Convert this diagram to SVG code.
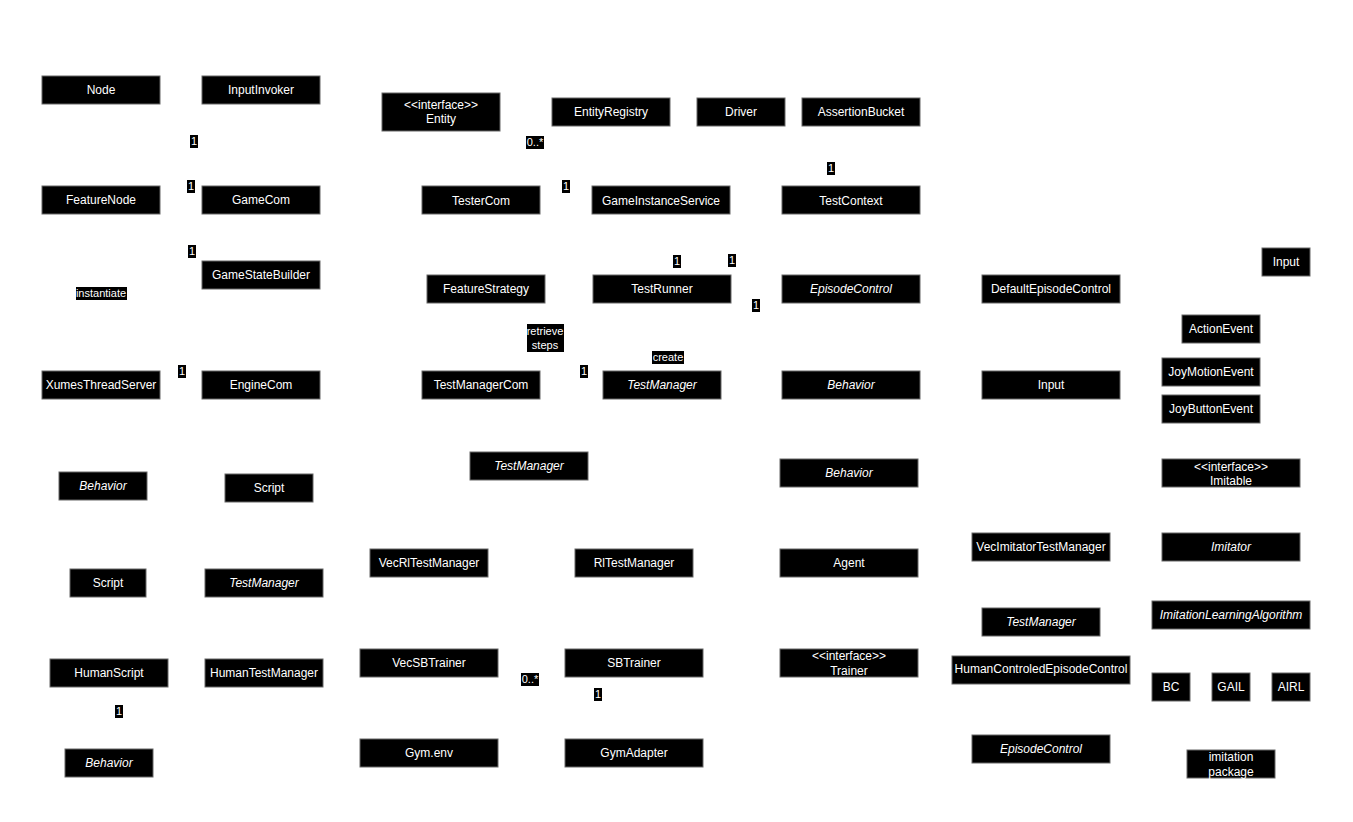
<svg xmlns="http://www.w3.org/2000/svg" width="1353" height="822" viewBox="0 0 1353 822">
<style>
rect.b{fill:#000;stroke:#666;stroke-width:1}
text{font-family:"Liberation Sans",Arial,sans-serif;font-size:12px;fill:#fff;text-anchor:middle;dominant-baseline:central}
.i{font-style:italic}
rect.l{fill:#000}
text.s{font-size:11px}
</style>
<rect width="1353" height="822" fill="#fff"/>
<g id="connectors">
<rect class="l" x="190" y="135" width="8" height="13"/><text class="s" x="194" y="141">1</text>
<rect class="l" x="187" y="180" width="8" height="13"/><text class="s" x="191" y="186">1</text>
<rect class="l" x="188" y="245" width="8" height="13"/><text class="s" x="192" y="251">1</text>
<rect class="l" x="76" y="287" width="51" height="13"/><text class="s" x="101" y="293">instantiate</text>
<rect class="l" x="178" y="365" width="8" height="13"/><text class="s" x="182" y="371">1</text>
<rect class="l" x="526" y="136" width="18" height="13"/><text class="s" x="535" y="142">0..*</text>
<rect class="l" x="562" y="180" width="8" height="13"/><text class="s" x="566" y="186">1</text>
<rect class="l" x="673" y="255" width="8" height="13"/><text class="s" x="677" y="261">1</text>
<rect class="l" x="728" y="254" width="8" height="13"/><text class="s" x="732" y="260">1</text>
<rect class="l" x="752" y="299" width="8" height="13"/><text class="s" x="756" y="305">1</text>
<rect class="l" x="527" y="324" width="37" height="28"/><text class="s" x="545" y="331">retrieve</text><text class="s" x="545" y="345">steps</text>
<rect class="l" x="652" y="351" width="32" height="13"/><text class="s" x="668" y="357">create</text>
<rect class="l" x="580" y="365" width="8" height="13"/><text class="s" x="584" y="371">1</text>
<rect class="l" x="827" y="162" width="8" height="13"/><text class="s" x="831" y="168">1</text>
<rect class="l" x="521" y="673" width="18" height="13"/><text class="s" x="530" y="679">0..*</text>
<rect class="l" x="594" y="688" width="8" height="13"/><text class="s" x="598" y="694">1</text>
<rect class="l" x="115" y="705" width="8" height="13"/><text class="s" x="119" y="711">1</text>
</g>
<g id="n1"><rect class="b" x="42" y="76" width="118" height="28"/><text x="101" y="90">Node</text></g>
<g id="n2"><rect class="b" x="202" y="76" width="118" height="28"/><text x="261" y="90">InputInvoker</text></g>
<g id="n3"><rect class="b" x="382" y="93" width="118" height="38"/><text x="441" y="105">&lt;&lt;interface&gt;&gt;</text><text x="441" y="119">Entity</text></g>
<g id="n4"><rect class="b" x="552" y="98" width="118" height="28"/><text x="611" y="112">EntityRegistry</text></g>
<g id="n5"><rect class="b" x="697" y="98" width="88" height="28"/><text x="741" y="112">Driver</text></g>
<g id="n6"><rect class="b" x="802" y="98" width="118" height="28"/><text x="861" y="112">AssertionBucket</text></g>
<g id="n7"><rect class="b" x="42" y="186" width="118" height="28"/><text x="101" y="200">FeatureNode</text></g>
<g id="n8"><rect class="b" x="202" y="186" width="118" height="28"/><text x="261" y="200">GameCom</text></g>
<g id="n9"><rect class="b" x="422" y="186" width="118" height="28"/><text x="481" y="201">TesterCom</text></g>
<g id="n10"><rect class="b" x="592" y="186" width="138" height="28"/><text x="661" y="201">GameInstanceService</text></g>
<g id="n11"><rect class="b" x="782" y="186" width="138" height="28"/><text x="851" y="201">TestContext</text></g>
<g id="n12"><rect class="b" x="202" y="261" width="118" height="28"/><text x="261" y="275">GameStateBuilder</text></g>
<g id="n13"><rect class="b" x="427" y="275" width="118" height="28"/><text x="486" y="289">FeatureStrategy</text></g>
<g id="n14"><rect class="b" x="593" y="275" width="138" height="28"/><text x="662" y="289">TestRunner</text></g>
<g id="n15"><rect class="b" x="782" y="275" width="138" height="28"/><text class="i" x="851" y="289">EpisodeControl</text></g>
<g id="n16"><rect class="b" x="982" y="275" width="138" height="28"/><text x="1051" y="289">DefaultEpisodeControl</text></g>
<g id="n17"><rect class="b" x="1262" y="248" width="48" height="28"/><text x="1286" y="262">Input</text></g>
<g id="n18"><rect class="b" x="1182" y="315" width="78" height="28"/><text x="1221" y="329">ActionEvent</text></g>
<g id="n19"><rect class="b" x="42" y="371" width="118" height="28"/><text x="101" y="385">XumesThreadServer</text></g>
<g id="n20"><rect class="b" x="202" y="371" width="118" height="28"/><text x="261" y="385">EngineCom</text></g>
<g id="n21"><rect class="b" x="422" y="371" width="118" height="28"/><text x="481" y="385">TestManagerCom</text></g>
<g id="n22"><rect class="b" x="603" y="371" width="118" height="28"/><text class="i" x="662" y="385">TestManager</text></g>
<g id="n23"><rect class="b" x="782" y="371" width="138" height="28"/><text class="i" x="851" y="385">Behavior</text></g>
<g id="n24"><rect class="b" x="982" y="371" width="138" height="28"/><text x="1051" y="385">Input</text></g>
<g id="n25"><rect class="b" x="1162" y="358" width="98" height="28"/><text x="1211" y="372">JoyMotionEvent</text></g>
<g id="n26"><rect class="b" x="1162" y="395" width="98" height="28"/><text x="1211" y="409">JoyButtonEvent</text></g>
<g id="n27"><rect class="b" x="470" y="452" width="118" height="28"/><text class="i" x="529" y="466">TestManager</text></g>
<g id="n28"><rect class="b" x="59" y="472" width="88" height="28"/><text class="i" x="103" y="486">Behavior</text></g>
<g id="n29"><rect class="b" x="225" y="474" width="88" height="28"/><text x="269" y="488">Script</text></g>
<g id="n30"><rect class="b" x="780" y="459" width="138" height="28"/><text class="i" x="849" y="473">Behavior</text></g>
<g id="n31"><rect class="b" x="1162" y="459" width="138" height="28"/><text x="1231" y="467">&lt;&lt;interface&gt;&gt;</text><text x="1231" y="481">Imitable</text></g>
<g id="n32"><rect class="b" x="70" y="569" width="76" height="28"/><text x="108" y="583">Script</text></g>
<g id="n33"><rect class="b" x="205" y="569" width="118" height="28"/><text class="i" x="264" y="583">TestManager</text></g>
<g id="n34"><rect class="b" x="370" y="549" width="118" height="28"/><text x="429" y="563">VecRlTestManager</text></g>
<g id="n35"><rect class="b" x="575" y="549" width="118" height="28"/><text x="634" y="563">RlTestManager</text></g>
<g id="n36"><rect class="b" x="780" y="549" width="138" height="28"/><text x="849" y="563">Agent</text></g>
<g id="n37"><rect class="b" x="972" y="533" width="138" height="28"/><text x="1041" y="547">VecImitatorTestManager</text></g>
<g id="n38"><rect class="b" x="1162" y="533" width="138" height="28"/><text class="i" x="1231" y="547">Imitator</text></g>
<g id="n39"><rect class="b" x="982" y="608" width="118" height="28"/><text class="i" x="1041" y="622">TestManager</text></g>
<g id="n40"><rect class="b" x="1152" y="601" width="158" height="28"/><text class="i" x="1231" y="615">ImitationLearningAlgorithm</text></g>
<g id="n41"><rect class="b" x="50" y="659" width="118" height="28"/><text x="109" y="673">HumanScript</text></g>
<g id="n42"><rect class="b" x="205" y="659" width="118" height="28"/><text x="264" y="673">HumanTestManager</text></g>
<g id="n43"><rect class="b" x="360" y="649" width="138" height="28"/><text x="429" y="663">VecSBTrainer</text></g>
<g id="n44"><rect class="b" x="565" y="649" width="138" height="28"/><text x="634" y="663">SBTrainer</text></g>
<g id="n45"><rect class="b" x="780" y="649" width="138" height="28"/><text x="849" y="656">&lt;&lt;interface&gt;&gt;</text><text x="849" y="671">Trainer</text></g>
<g id="n46"><rect class="b" x="952" y="656" width="178" height="28"/><text x="1041" y="669">HumanControledEpisodeControl</text></g>
<g id="n47"><rect class="b" x="1152" y="673" width="38" height="28"/><text x="1171" y="687">BC</text></g>
<g id="n48"><rect class="b" x="1212" y="673" width="38" height="28"/><text x="1231" y="687">GAIL</text></g>
<g id="n49"><rect class="b" x="1272" y="673" width="38" height="28"/><text x="1291" y="687">AIRL</text></g>
<g id="n50"><rect class="b" x="65" y="749" width="88" height="28"/><text class="i" x="109" y="763">Behavior</text></g>
<g id="n51"><rect class="b" x="360" y="739" width="138" height="28"/><text x="429" y="753">Gym.env</text></g>
<g id="n52"><rect class="b" x="565" y="739" width="138" height="28"/><text x="634" y="753">GymAdapter</text></g>
<g id="n53"><rect class="b" x="972" y="735" width="138" height="28"/><text class="i" x="1041" y="749">EpisodeControl</text></g>
<g id="n54"><rect class="b" x="1187" y="750" width="88" height="28"/><text x="1231" y="757">imitation</text><text x="1231" y="772">package</text></g>
</svg>
